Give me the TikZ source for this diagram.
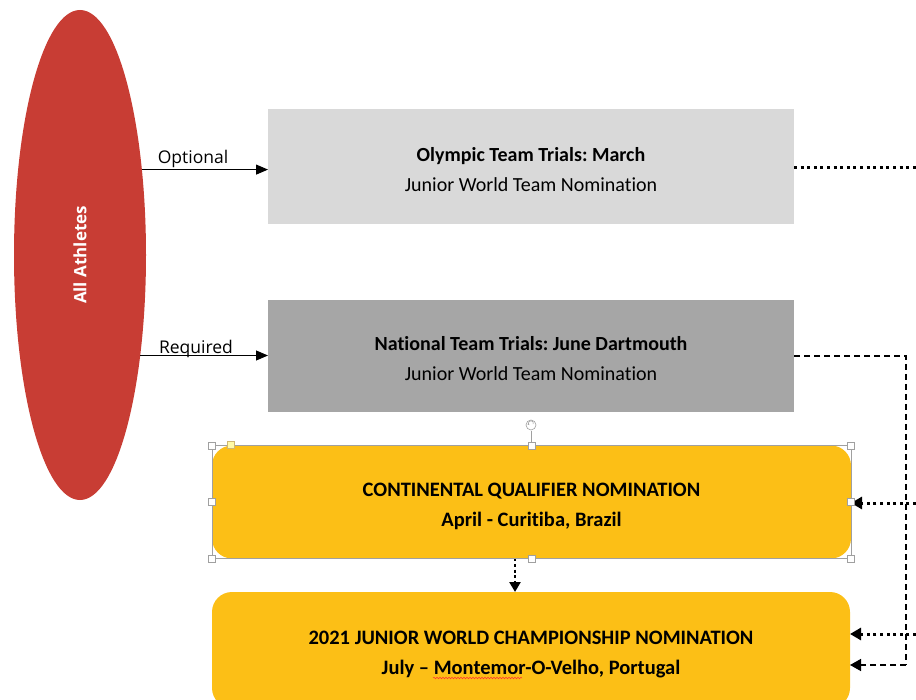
\documentclass[tikz,border=0pt]{standalone}
\usepackage{fontspec}
\setmainfont{Carlito}[Ligatures={NoCommon}]
\newfontfamily\opensans{Open Sans}
\usetikzlibrary{arrows.meta,shapes.geometric,decorations.pathmorphing}
\definecolor{athred}{HTML}{C83D34}
\definecolor{lightbox}{HTML}{D9D9D9}
\definecolor{darkbox}{HTML}{A6A6A6}
\definecolor{yellowbox}{HTML}{FCBF16}
\definecolor{handlegray}{HTML}{A0A0A0}
\frenchspacing
\tikzset{
  graybox/.style={rectangle, inner sep=0pt, outer sep=0pt, minimum width=526pt, align=center, font=\fontsize{20}{30}\selectfont},
  yellowstyle/.style={rectangle, rounded corners=20pt, fill=yellowbox, inner sep=0pt, outer sep=0pt, minimum width=639pt, align=center, font=\fontsize{20.5}{30}\selectfont\bfseries},
  thinarrow/.style={line width=1pt, -{Triangle[length=12pt,width=10pt]}},
  dotline/.style={line width=3pt, dash pattern=on 3pt off 3.6pt},
  dotarrow/.style={dotline, -{Triangle[length=11pt,width=12pt]}},
  dashline/.style={line width=1.4pt, dash pattern=on 6pt off 4pt},
  dasharrow/.style={dashline, -{Triangle[length=11pt,width=12pt]}},
  edgelabel/.style={font=\opensans\fontsize{17.5}{20}\selectfont, inner sep=0pt},
  handle/.style={rectangle, draw=handlegray, fill=white, line width=0.6pt, minimum size=7pt, inner sep=0pt},
}
\begin{document}
\begin{tikzpicture}[x=1pt,y=-1pt]
\useasboundingbox (0,0) rectangle (916,700);

% nodes
\node[ellipse, fill=athred, minimum width=132pt, minimum height=490pt, inner sep=0pt] (ath) at (80,255) {};
\node[rotate=90, text=white, font=\opensans\bfseries\fontsize{17}{19}\selectfont] (athtxt) at (80,255) {All Athletes};

\node[graybox, fill=lightbox, minimum height=115pt] (oly) at (531,166.5)
  {\rule{0pt}{20pt}\textbf{Olympic Team Trials: March}\\Junior World Team Nomination};
\node[graybox, fill=darkbox, minimum height=112pt] (nat) at (531,356)
  {\rule{0pt}{20pt}\textbf{National Team Trials: June Dartmouth}\\Junior World Team Nomination};
\node[yellowstyle, minimum height=113pt] (con) at (531.5,502)
  {\rule{0pt}{22.5pt}CONTINENTAL QUALIFIER NOMINATION\\April - Curitiba, Brazil};
\node[yellowstyle, minimum width=638pt, minimum height=116pt] (jun) at (531,650)
  {\rule{0pt}{22.5pt}2021 JUNIOR WORLD CHAMPIONSHIP NOMINATION\\July -- Montemor-O-Velho, Portugal};

% edge labels
\node[edgelabel] (optlbl) at (193,159) {Optional};
\node[edgelabel] (reqlbl) at (196,349) {Required};

% solid arrows
\draw[thinarrow] (ath.54.7) -- (oly.west |- ath.54.7);
\draw[thinarrow] (ath.-59.2) -- (nat.west |- ath.-59.2);

% free ends / helper coordinates
\coordinate (olyout) at (916,168);
\coordinate (rin1) at (916,503);
\coordinate (rin2) at (916,634);
\coordinate (dk) at (906,665);
\coordinate (vx) at (515,0);

\draw[dotline] (oly.east |- olyout) -- (olyout);
\draw[dashline] (nat.east) -| (dk);
\draw[dasharrow] (dk) -- (jun.east |- dk);
\draw[dotarrow] (rin1) -- (con.east |- rin1);
\draw[dotarrow] (rin2) -- (jun.east |- rin2);
\draw[dotline, line width=2.8pt, dash pattern=on 2.8pt off 2.8pt, -{Triangle[length=10pt,width=11pt]}] (con.south -| vx) -- (jun.north -| vx);

% selection frame (editor artifacts)
\draw[handlegray, line width=0.6pt] (con.north west) rectangle (con.south east);
\draw[handlegray, line width=0.6pt] (con.north) -- ++(0,-14);
\node[circle, draw=handlegray, fill=white, line width=0.6pt, minimum size=10pt, inner sep=0pt] (rot) at (531,425) {};
\draw[handlegray, line width=0.6pt, -{Stealth[length=2pt]}] ([shift={(2.2,-1)}]rot.center) arc[start angle=-20, end angle=230, radius=2.4pt];
\foreach \a in {north west, north, north east, west, east, south west, south, south east}
  \node[handle] at (con.\a) {};
\node[handle, fill=yellow!35, draw=yellowbox!70!black!60] at (231,445) {};

% spell-check squiggle
\draw[red!80, line width=0.5pt, decorate, decoration={snake, amplitude=0.8pt, segment length=3pt}] (433,678) -- (522,678);
\end{tikzpicture}
\end{document}
